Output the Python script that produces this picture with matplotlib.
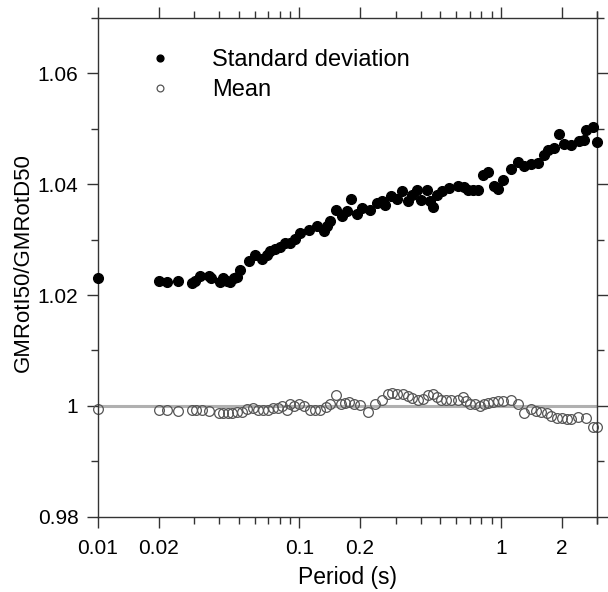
import numpy as np
import matplotlib
matplotlib.use("Agg")
import matplotlib.pyplot as plt
from matplotlib.ticker import FixedLocator, MultipleLocator, FuncFormatter, NullFormatter

plt.rcParams['font.family'] = ['Liberation Sans', 'DejaVu Sans']

# ─── Data ─────────────────────────────────────────────────────────────────────

std_period = [0.01, 0.0200, 0.0221, 0.0251, 0.0292, 0.0304, 0.0322, 0.0354, 0.0363,
              0.0405, 0.0420, 0.0437, 0.0454, 0.0471, 0.0490, 0.0505, 0.0560, 0.0604,
              0.0652, 0.0691, 0.0717, 0.0760, 0.0805, 0.0852, 0.0902, 0.0955, 0.1011,
              0.1112, 0.1225, 0.132, 0.1373, 0.1426, 0.1511, 0.163, 0.1727, 0.1794,
              0.1921, 0.205, 0.224, 0.2435, 0.2578, 0.265, 0.2858, 0.304, 0.3243,
              0.346, 0.364, 0.382, 0.4032, 0.4285, 0.445, 0.4624, 0.484, 0.513,
              0.553, 0.609, 0.657, 0.683, 0.723, 0.766, 0.811, 0.865, 0.919, 0.963,
              1.020, 1.121, 1.219, 1.306, 1.410, 1.523, 1.631, 1.720, 1.828, 1.944,
              2.051, 2.23, 2.453, 2.578, 2.649, 2.859, 3.0]
std_ratio = [1.0230, 1.0225, 1.0224, 1.0226, 1.0221, 1.0225, 1.0234, 1.0235, 1.0231,
             1.0223, 1.0231, 1.0225, 1.0223, 1.0231, 1.0233, 1.0246, 1.0261, 1.0273,
             1.0265, 1.0273, 1.0279, 1.0283, 1.0287, 1.0294, 1.0293, 1.0301, 1.0311,
             1.0317, 1.0325, 1.0315, 1.0324, 1.0333, 1.0354, 1.0342, 1.0351, 1.0373,
             1.0347, 1.0357, 1.0353, 1.0366, 1.0369, 1.0363, 1.0379, 1.0373, 1.0388,
             1.0369, 1.0381, 1.0390, 1.0371, 1.0390, 1.0369, 1.0359, 1.0381, 1.0387,
             1.0393, 1.0397, 1.0395, 1.0390, 1.0390, 1.0390, 1.0417, 1.0421, 1.0397,
             1.0392, 1.0407, 1.0428, 1.0439, 1.0432, 1.0437, 1.0438, 1.0452, 1.0461,
             1.0465, 1.0491, 1.0473, 1.0471, 1.0477, 1.0480, 1.0497, 1.0503, 1.0476]

mean_period = [0.01, 0.0202, 0.0221, 0.0251, 0.0292, 0.0307, 0.0328, 0.0354, 0.0397,
               0.0417, 0.0441, 0.0463, 0.0490, 0.0519, 0.0550, 0.0588, 0.0626, 0.0660,
               0.0701, 0.0740, 0.0780, 0.0820, 0.0870, 0.0900, 0.0945, 0.0995, 0.105,
               0.113, 0.120, 0.127, 0.135, 0.1426, 0.1511, 0.160, 0.169, 0.1757, 0.186,
               0.200, 0.220, 0.238, 0.257, 0.274, 0.289, 0.306, 0.325, 0.344, 0.364,
               0.386, 0.409, 0.433, 0.459, 0.481, 0.502, 0.532, 0.564, 0.609, 0.646,
               0.671, 0.705, 0.745, 0.783, 0.824, 0.863, 0.910, 0.963, 1.020, 1.121,
               1.219, 1.306, 1.410, 1.497, 1.587, 1.700, 1.780, 1.890, 2.000, 2.120,
               2.240, 2.420, 2.650, 2.860, 3.0]
mean_ratio = [0.9995, 0.9993, 0.9993, 0.9991, 0.9993, 0.9993, 0.9993, 0.9991, 0.9988,
              0.9988, 0.9988, 0.9988, 0.9989, 0.9989, 0.9995, 0.9997, 0.9993, 0.9993,
              0.9993, 0.9997, 0.9997, 0.9999, 0.9993, 1.0003, 0.9999, 1.0003, 0.9999,
              0.9992, 0.9993, 0.9993, 0.9998, 1.0003, 1.0020, 1.0004, 1.0006, 1.0007,
              1.0004, 1.0001, 0.9989, 1.0004, 1.0011, 1.0021, 1.0023, 1.0022, 1.0021,
              1.0017, 1.0015, 1.0010, 1.0013, 1.0019, 1.0021, 1.0016, 1.0011, 1.0010,
              1.0011, 1.0010, 1.0016, 1.0009, 1.0004, 1.0003, 0.9999, 1.0003, 1.0005,
              1.0007, 1.0009, 1.0009, 1.0010, 1.0003, 0.9988, 0.9994, 0.9991, 0.9989,
              0.9988, 0.9982, 0.9979, 0.9978, 0.9976, 0.9976, 0.9980, 0.9979, 0.9962,
              0.9962]

x_major = [0.01, 0.02, 0.1, 0.2, 1, 2]
y_major = [0.98, 1.0, 1.02, 1.04, 1.06]

# ─── Figure ───────────────────────────────────────────────────────────────────

fig = plt.figure(figsize=(6.08, 5.92), dpi=100)
ax = fig.add_axes([0.161, 0.127, 0.821, 0.843])

ax.axhline(1.0, color='#b0b0b0', lw=2.2, zorder=1)

ax.plot(std_period, std_ratio, 'o', ms=7, color='black', mec='black',
        label='Standard deviation', zorder=3, clip_on=False)
ax.plot(mean_period, mean_ratio, 'o', ms=7, mfc='none', mec='#555555', mew=0.9,
        label='Mean', zorder=2, clip_on=False)

ax.set_xscale('log')
ax.set_xlim(0.01, 3.0)
ax.set_ylim(0.98, 1.07)

minor_x = [m * d for d in (0.01, 0.1, 1) for m in range(3, 10)] + [3.0]
ax.xaxis.set_major_locator(FixedLocator(x_major))
ax.xaxis.set_minor_locator(FixedLocator(minor_x))
ax.xaxis.set_major_formatter(FuncFormatter(lambda v, p: f"{v:g}"))
ax.xaxis.set_minor_formatter(NullFormatter())
ax.yaxis.set_major_locator(FixedLocator(y_major))
ax.yaxis.set_minor_locator(MultipleLocator(0.01))
ax.yaxis.set_major_formatter(FuncFormatter(lambda v, p: f"{round(v, 2):g}"))

ax.tick_params(which='both', direction='out', top=True, right=True,
               labelsize=15, width=1.0, color='#333333')
ax.tick_params(which='major', length=8, pad=6)
ax.tick_params(axis='x', which='major', pad=8)
ax.tick_params(which='minor', length=5)
for sp in ax.spines.values():
    sp.set_color('#333333')
    sp.set_linewidth(1.0)

ax.set_xlabel('Period (s)', fontsize=16.5, labelpad=6)
ax.set_ylabel('GMRotI50/GMRotD50', fontsize=16)
ax.yaxis.set_label_coords(-0.128, 0.51)

ax.legend(loc='upper left', bbox_to_anchor=(0.058, 0.979), frameon=False,
          fontsize=17, markerscale=0.7, handletextpad=1.7, labelspacing=0.33,
          handlelength=1.0)

fig.savefig('out.png', dpi=100)
